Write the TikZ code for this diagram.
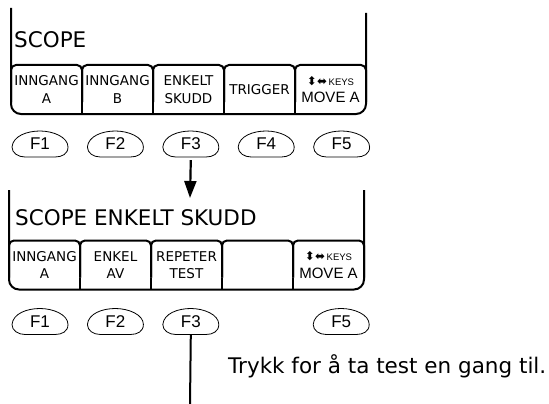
\documentclass[tikz,border=0pt]{standalone}
\usepackage{fontspec}
\setmainfont{DejaVu Sans}
\newfontfamily\arialfont{Liberation Sans}
\usetikzlibrary{arrows.meta,positioning}

\newcommand{\movekeys}{{\fontsize{12}{10}\selectfont ⬍⬌}{\arialfont\fontsize{9.5}{10}\selectfont\,KEYS}\\[0pt]{\arialfont\fontsize{15}{16}\selectfont MOVE A}}

\begin{document}
\begin{tikzpicture}[
  x=1pt, y=1pt,
  >={Triangle[width=12pt,length=17pt]},
  softkey/.style={
    minimum width=71pt,
    minimum height=49pt,
    inner sep=0pt,
    outer sep=0pt,
    align=center,
    font=\fontsize{13.5}{17.5}\selectfont
  },
  fkey/.style={
    minimum width=57pt,
    minimum height=26pt,
    inner sep=0pt,
    font=\arialfont\fontsize{17}{19}\selectfont
  },
  title/.style={anchor=base west, inner sep=0pt, font=\fontsize{21.5}{25}\selectfont},
  frame/.style={line width=2pt, rounded corners=10pt},
  keyline/.style={line width=2pt, rounded corners=5pt},
  fkeyline/.style={line width=0.8pt},
  flow/.style={->,line width=2.2pt}
]
\useasboundingbox (0,0) rectangle (549,-404);

% top screen
\node[title] (toptitle) at (14,-48) {SCOPE};
\node[softkey] (ta) at (46.5,-89.5) {INNGANG\\A};
\node[softkey,right=0pt of ta] (tb) {INNGANG\\B};
\node[softkey,right=0pt of tb] (tc) {ENKELT\\SKUDD};
\node[softkey,right=0pt of tc] (td) {TRIGGER};
\node[softkey,right=0pt of td] (te) {\movekeys};
\coordinate (tl) at (11,-8);
\coordinate (tr) at (366,-13);
\draw[frame] (tl) -- (ta.south west) -- (te.south east) -- (tr);

\node[fkey] (tf1) at (40,-144) {F1};
\node[fkey,right=18pt of tf1] (tf2) {F2};
\node[fkey,right=18pt of tf2] (tf3) {F3};
\node[fkey,right=18pt of tf3] (tf4) {F4};
\node[fkey,right=18pt of tf4] (tf5) {F5};

% bottom screen
\node[title] (bottitle) at (15,-225) {SCOPE ENKELT SKUDD};
\node[softkey] (ba) at (44.5,-265) {INNGANG\\A};
\node[softkey,right=0pt of ba] (bb) {ENKEL\\AV};
\node[softkey,right=0pt of bb] (bc) {REPETER\\TEST};
\node[softkey,right=0pt of bc] (bd) {};
\node[softkey,right=0pt of bd] (be) {\movekeys};
\coordinate (bl) at (9,-190);
\coordinate (br) at (364,-190);
\draw[frame] (bl) -- (ba.south west) -- (be.south east) -- (br);

\node[fkey] (bf1) at (40,-321.5) {F1};
\node[fkey,right=18pt of bf1] (bf2) {F2};
\node[fkey,right=18pt of bf2] (bf3) {F3};
\node[fkey,right=93pt of bf3] (bf5) {F5};

% key tops and dividers
\foreach \k in {ta,tb,tc,td,te,ba,bb,bc,bd,be}
  \draw[keyline] ([yshift=12pt]\k.south west) |- (\k.north) -| ([yshift=12pt]\k.south east);
\foreach \k in {ta,tb,tc,td,ba,bb,bc,bd}
  \draw[line width=2pt] (\k.south east) -- ++(0,12);

% function key outlines
\foreach \f in {tf1,tf2,tf3,tf4,tf5,bf1,bf2,bf3,bf5}
  \draw[fkeyline] ([shift={(-28,-3)}]\f.center)
    .. controls +(1,11) and +(-13,0) .. ([yshift=13pt]\f.center)
    .. controls +(13,0) and +(0,10) .. ([shift={(28,-3)}]\f.center)
    .. controls +(0,-7) and +(7,0) .. ([shift={(15,-13)}]\f.center)
    -- ([shift={(-15,-13)}]\f.center)
    .. controls +(-7,0) and +(0,-6) .. ([shift={(-28,-3)}]\f.center);

\coordinate (tip) at (190,-198);
\draw[flow] ([yshift=-3pt]tf3.south) -- (tip);

\node[anchor=west,inner sep=0pt,font=\fontsize{21.5}{25}\selectfont] (hint) at (228,-366) {Trykk for å ta test en gang til.};
\coordinate (lineend) at (190,-404);
\draw[line width=2pt] (bf3.south) -- (lineend);
\end{tikzpicture}
\end{document}
